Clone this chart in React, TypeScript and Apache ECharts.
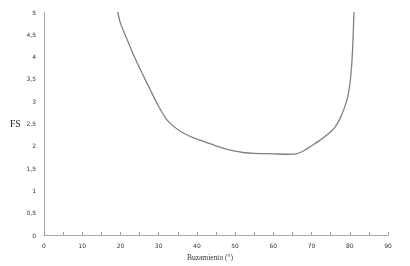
import React, { useEffect, useRef } from "react";
import * as echarts from "echarts";

const dipAngles = [19.3, 20, 22, 24, 26, 28, 30, 32, 34, 36, 38, 40, 42, 44, 46, 48, 50, 52, 55, 60, 64, 66, 67, 68, 70, 72, 74, 76, 77.5, 79, 79.8, 80.3, 80.7, 81.1];
const fsValues = [5.0, 4.75, 4.33, 3.93, 3.57, 3.22, 2.88, 2.6, 2.43, 2.31, 2.22, 2.15, 2.09, 2.03, 1.97, 1.92, 1.88, 1.85, 1.83, 1.82, 1.81, 1.82, 1.85, 1.89, 2.0, 2.11, 2.24, 2.4, 2.62, 2.95, 3.25, 3.6, 4.1, 5.0];

export default function App() {
  const ref = useRef<HTMLDivElement>(null);
  useEffect(() => {
    if (!ref.current) return;
    const chart = echarts.init(ref.current, null, { renderer: "svg" });
    chart.setOption({
      animation: false,
      grid: { left: 44, right: 22, top: 12, bottom: 27 },
      xAxis: {
        type: "value",
        min: 0,
        max: 90,
        interval: 5,
        name: "Buzamiento (°)",
        nameLocation: "middle",
        nameGap: 18,
        nameTextStyle: {
          fontFamily: "Liberation Serif",
          fontSize: 7.5,
          color: "#333",
          padding: [0, 12, 0, 0],
        },
        axisLine: { lineStyle: { color: "#aaa", width: 1 } },
        axisTick: { show: true, inside: true, length: 3, lineStyle: { color: "#999" } },
        splitLine: { show: false },
        axisLabel: {
          fontFamily: "DejaVu Sans",
          fontSize: 6,
          color: "#333",
          margin: 7,
          formatter: (v: number) => (v % 10 === 0 ? String(v) : ""),
        },
      },
      yAxis: {
        type: "value",
        min: 0,
        max: 5,
        interval: 0.5,
        name: "FS",
        nameLocation: "middle",
        nameRotate: 0,
        nameGap: 20,
        nameTextStyle: { fontFamily: "Liberation Serif", fontSize: 9.5, color: "#222" },
        axisLine: { show: true, lineStyle: { color: "#aaa", width: 1 } },
        axisTick: { show: false },
        splitLine: { show: false },
        axisLabel: {
          fontFamily: "DejaVu Sans",
          fontSize: 6,
          color: "#333",
          margin: 8,
          formatter: (v: number) => String(v).replace(".", ","),
        },
      },
      series: [
        {
          type: "line",
          data: dipAngles.map((x, i) => [x, fsValues[i]]),
          smooth: 0.3,
          showSymbol: false,
          lineStyle: { color: "#808080", width: 1.3 },
        },
      ],
    });
    return () => chart.dispose();
  }, []);
  return (
    <div
      ref={ref}
      style={{ position: "fixed", left: 0, top: 0, width: 410, height: 266 }}
    />
  );
}
